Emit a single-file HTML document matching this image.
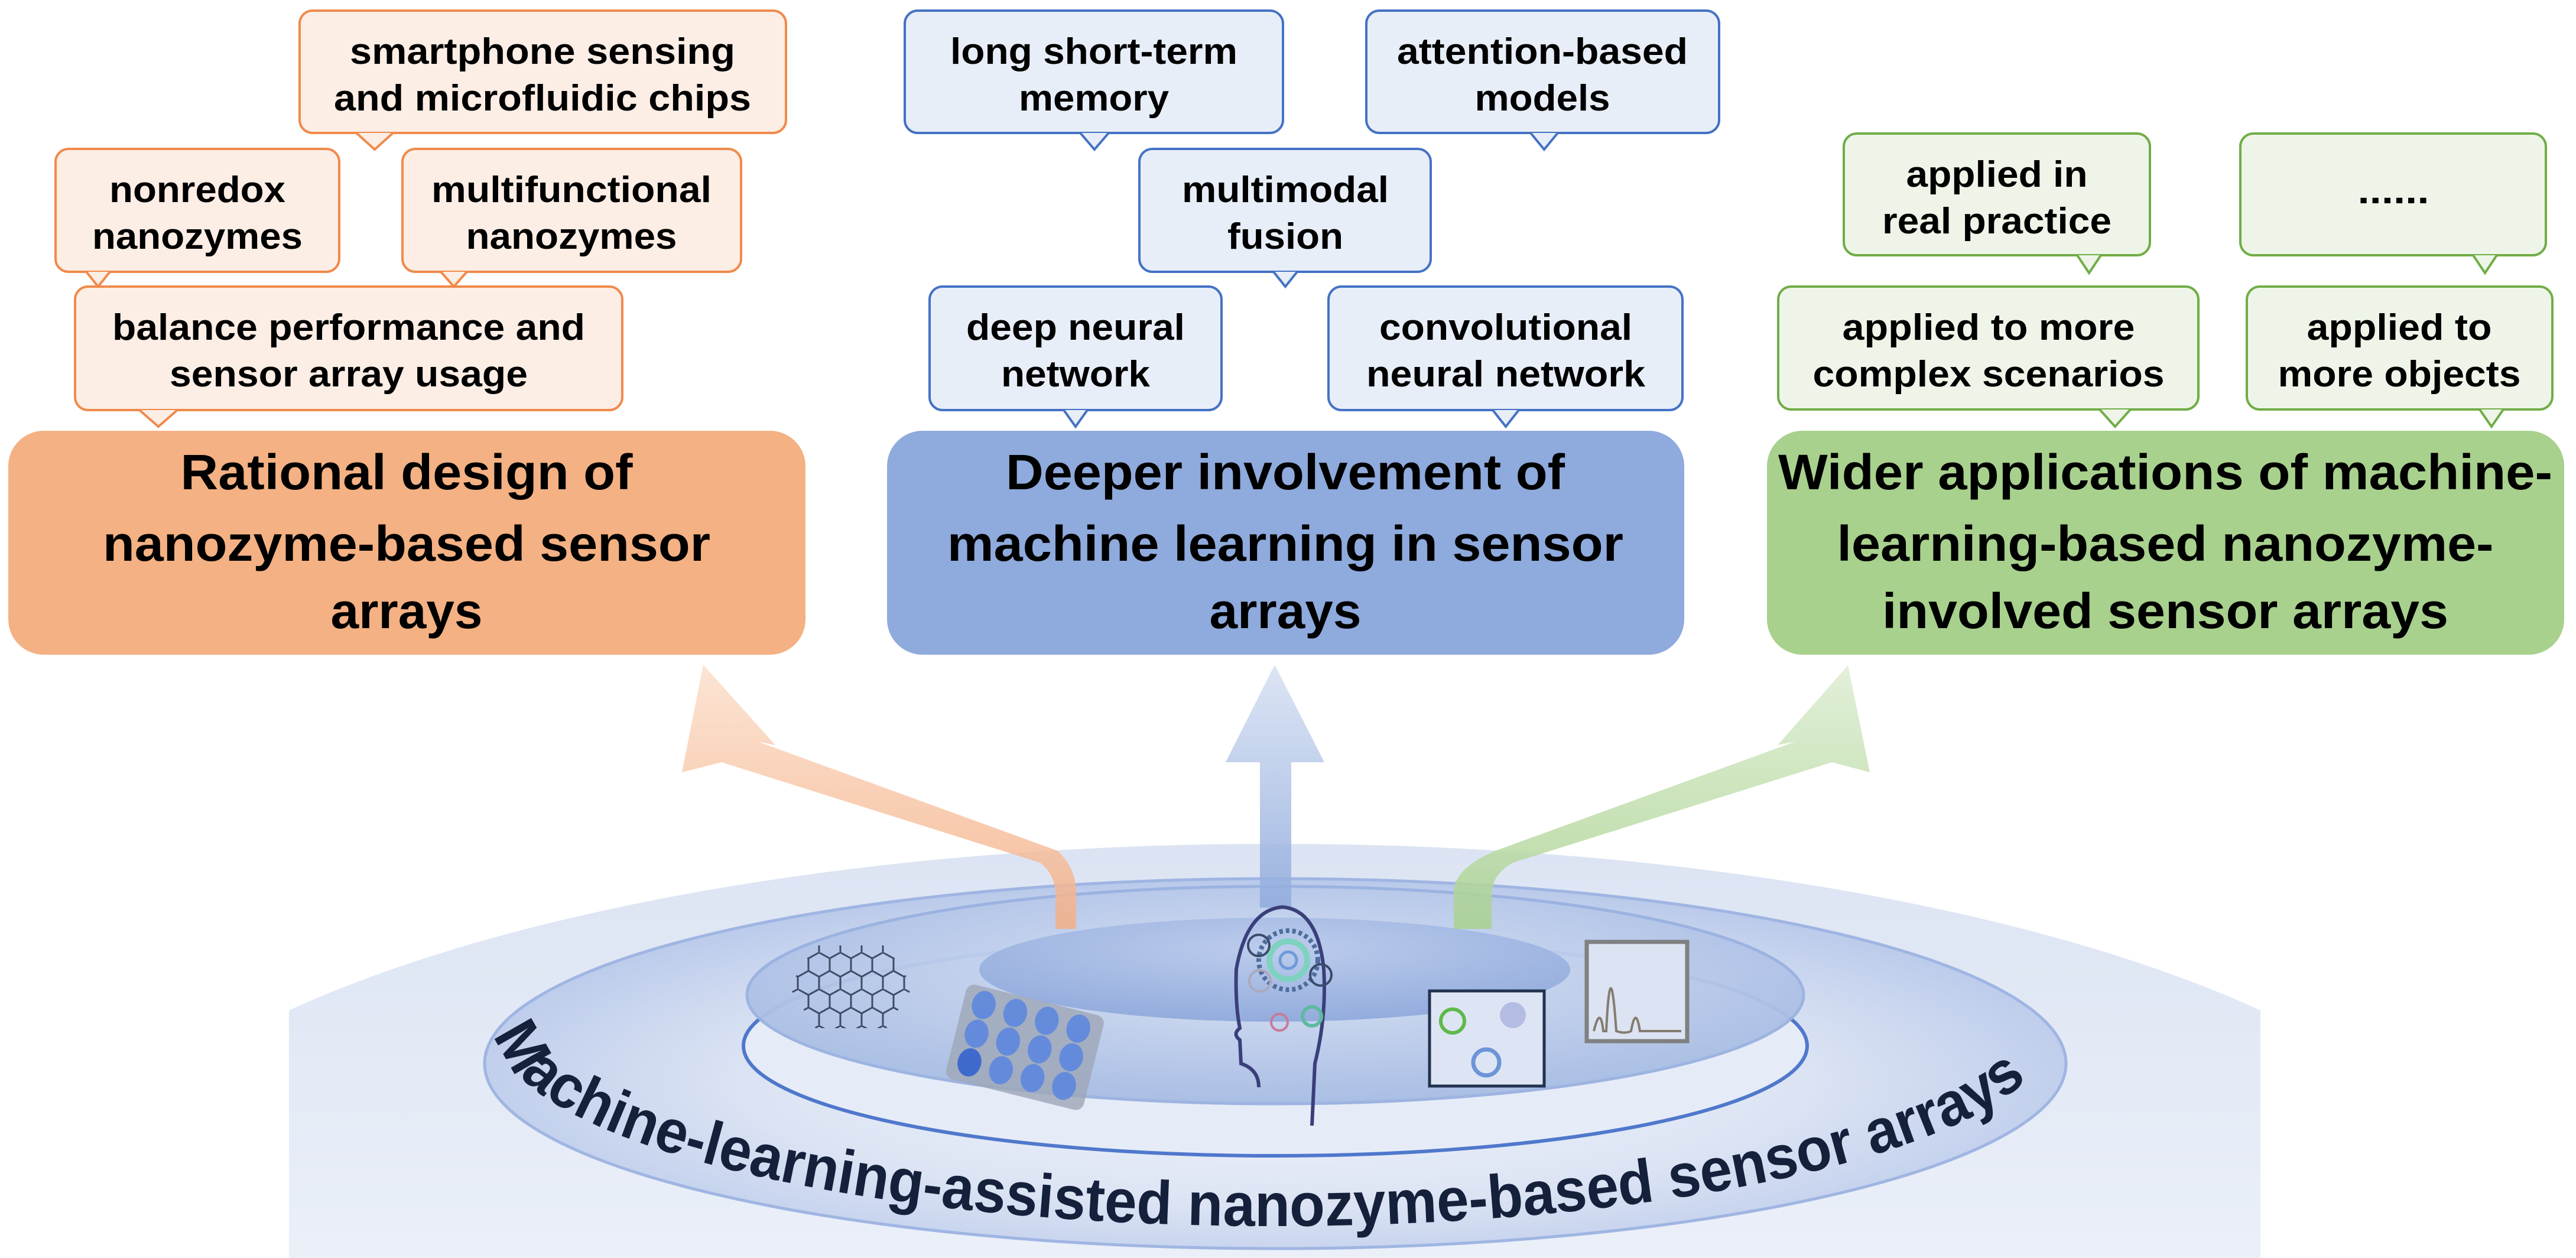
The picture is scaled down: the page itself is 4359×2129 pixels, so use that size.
<!DOCTYPE html>
<html><head><meta charset="utf-8"><style>
html,body{margin:0;padding:0;background:#fff;width:4359px;height:2129px;overflow:hidden}
svg{display:block}
text{font-family:"Liberation Sans",Arial,sans-serif;font-weight:bold}
</style></head><body>
<svg width="4359" height="2129" viewBox="0 0 4359 2129" xmlns="http://www.w3.org/2000/svg">
<defs>
<linearGradient id="gO" x1="0" y1="0" x2="0" y2="1"><stop offset="0" stop-color="#FBE0CC"/><stop offset="1" stop-color="#F4AE85"/></linearGradient>
<linearGradient id="gB" x1="0" y1="0" x2="0" y2="1"><stop offset="0" stop-color="#D6E0F2"/><stop offset="1" stop-color="#8FAADC"/></linearGradient>
<linearGradient id="gG" x1="0" y1="0" x2="0" y2="1"><stop offset="0" stop-color="#DDEDD2"/><stop offset="1" stop-color="#A9D18E"/></linearGradient>
<linearGradient id="outer" x1="0" y1="0" x2="0" y2="1"><stop offset="0" stop-color="#DCE4F3"/><stop offset="1" stop-color="#F8FAFD"/></linearGradient>
<radialGradient id="mid" cx="0.5" cy="0.55" r="0.55"><stop offset="0" stop-color="#F1F4FA"/><stop offset="0.6" stop-color="#DCE4F4"/><stop offset="1" stop-color="#B9C9EA"/></radialGradient>
<radialGradient id="top" cx="0.5" cy="0.4" r="0.6"><stop offset="0" stop-color="#D8E1F3"/><stop offset="1" stop-color="#A7BCE4"/></radialGradient>
<radialGradient id="inner" cx="0.5" cy="0.3" r="0.7"><stop offset="0" stop-color="#BCCCEC"/><stop offset="1" stop-color="#93ACDD"/></radialGradient>
<clipPath id="clipO"><rect x="489" y="0" width="3336" height="2129"/></clipPath>
<path id="ring" d="M 840 1740 A 1318 335 0 0 0 3476 1740"/>
<pattern id="hex" x="0" y="0" width="36" height="62" patternUnits="userSpaceOnUse">
<path d="M0 10 L18 0 L36 10 M18 0 L18 -1 M0 10 L0 31 L18 41 L36 31 L36 10 M18 41 L18 62" fill="none" stroke="#2A3550" stroke-width="3"/>
</pattern>
</defs>

<!-- top boxes: orange -->
<g stroke="#F08A4B" stroke-width="4" fill="#FCEEE5">
<rect x="507" y="18" width="823" height="207" rx="22"/>
<rect x="94" y="252" width="480" height="208" rx="22"/>
<rect x="681" y="252" width="573" height="208" rx="22"/>
<rect x="127" y="485" width="926" height="209" rx="22"/>
<path d="M603 225 L634 253 L665 225" />
<path d="M146 460 L166 485 L186 460" />
<path d="M746 460 L768 485 L790 460" />
<path d="M236 694 L268 722 L300 694" />
</g>
<!-- blue -->
<g stroke="#4472C4" stroke-width="4" fill="#E8EEF8">
<rect x="1531" y="18" width="640" height="207" rx="22"/>
<rect x="2312" y="18" width="597" height="207" rx="22"/>
<rect x="1928" y="252" width="493" height="208" rx="22"/>
<rect x="1573" y="485" width="494" height="209" rx="22"/>
<rect x="2248" y="485" width="599" height="209" rx="22"/>
<path d="M1828 225 L1852 253 L1876 225"/>
<path d="M2590 225 L2613 253 L2636 225"/>
<path d="M2155 460 L2175 485 L2195 460"/>
<path d="M1800 694 L1820 722 L1840 694"/>
<path d="M2526 694 L2548 722 L2570 694"/>
</g>
<!-- green -->
<g stroke="#70AD47" stroke-width="4" fill="#EEF5E8">
<rect x="3120" y="226" width="518" height="206" rx="22"/>
<rect x="3791" y="226" width="517" height="206" rx="22"/>
<rect x="3009" y="485" width="711" height="208" rx="22"/>
<rect x="3802" y="485" width="517" height="208" rx="22"/>
<path d="M3515 432 L3535 462 L3555 432"/>
<path d="M4185 432 L4205 462 L4225 432"/>
<path d="M3553 693 L3579 722 L3605 693"/>
<path d="M4196 693 L4216 722 L4236 693"/>
</g>

<!-- main boxes -->
<rect x="14" y="729" width="1349" height="379" rx="60" fill="#F4B183"/>
<rect x="1501" y="729" width="1349" height="379" rx="60" fill="#8FAADC"/>
<rect x="2990" y="729" width="1349" height="379" rx="60" fill="#A9D18E"/>

<g font-size="62" text-anchor="middle" fill="#000">
<text x="918" y="108" textLength="652" lengthAdjust="spacingAndGlyphs">smartphone sensing</text>
<text x="918" y="187" textLength="706" lengthAdjust="spacingAndGlyphs">and microfluidic chips</text>
<text x="334" y="342" textLength="298" lengthAdjust="spacingAndGlyphs">nonredox</text>
<text x="334" y="421" textLength="356" lengthAdjust="spacingAndGlyphs">nanozymes</text>
<text x="967" y="342" textLength="474" lengthAdjust="spacingAndGlyphs">multifunctional</text>
<text x="967" y="421" textLength="357" lengthAdjust="spacingAndGlyphs">nanozymes</text>
<text x="590" y="575" textLength="800" lengthAdjust="spacingAndGlyphs">balance performance and</text>
<text x="590" y="654" textLength="606" lengthAdjust="spacingAndGlyphs">sensor array usage</text>

<text x="1851" y="108" textLength="486" lengthAdjust="spacingAndGlyphs">long short-term</text>
<text x="1851" y="187" textLength="254" lengthAdjust="spacingAndGlyphs">memory</text>
<text x="2610" y="108" textLength="492" lengthAdjust="spacingAndGlyphs">attention-based</text>
<text x="2610" y="187" textLength="229" lengthAdjust="spacingAndGlyphs">models</text>
<text x="2175" y="342" textLength="350" lengthAdjust="spacingAndGlyphs">multimodal</text>
<text x="2175" y="421" textLength="196" lengthAdjust="spacingAndGlyphs">fusion</text>
<text x="1820" y="575" textLength="370" lengthAdjust="spacingAndGlyphs">deep neural</text>
<text x="1820" y="654" textLength="252" lengthAdjust="spacingAndGlyphs">network</text>
<text x="2548" y="575" textLength="428" lengthAdjust="spacingAndGlyphs">convolutional</text>
<text x="2548" y="654" textLength="472" lengthAdjust="spacingAndGlyphs">neural network</text>

<text x="3379" y="316" textLength="307" lengthAdjust="spacingAndGlyphs">applied in</text>
<text x="3379" y="395" textLength="388" lengthAdjust="spacingAndGlyphs">real practice</text>
<text x="4050" y="344" textLength="121" lengthAdjust="spacingAndGlyphs">......</text>
<text x="3365" y="575" textLength="495" lengthAdjust="spacingAndGlyphs">applied to more</text>
<text x="3365" y="654" textLength="595" lengthAdjust="spacingAndGlyphs">complex scenarios</text>
<text x="4060" y="575" textLength="313" lengthAdjust="spacingAndGlyphs">applied to</text>
<text x="4060" y="654" textLength="411" lengthAdjust="spacingAndGlyphs">more objects</text>
</g>
<g font-size="84" text-anchor="middle" fill="#000">
<text x="688" y="828" textLength="765" lengthAdjust="spacingAndGlyphs">Rational design of</text>
<text x="688" y="949" textLength="1028" lengthAdjust="spacingAndGlyphs">nanozyme-based sensor</text>
<text x="688" y="1063" textLength="257" lengthAdjust="spacingAndGlyphs">arrays</text>
<text x="2175" y="828" textLength="946" lengthAdjust="spacingAndGlyphs">Deeper involvement of</text>
<text x="2175" y="949" textLength="1144" lengthAdjust="spacingAndGlyphs">machine learning in sensor</text>
<text x="2175" y="1063" textLength="257" lengthAdjust="spacingAndGlyphs">arrays</text>
<text x="3664" y="828" textLength="1310" lengthAdjust="spacingAndGlyphs">Wider applications of machine-</text>
<text x="3664" y="949" textLength="1111" lengthAdjust="spacingAndGlyphs">learning-based nanozyme-</text>
<text x="3664" y="1063" textLength="958" lengthAdjust="spacingAndGlyphs">involved sensor arrays</text>
</g>

<!-- disc -->
<ellipse cx="2157" cy="2110" rx="2060" ry="682" fill="url(#outer)" clip-path="url(#clipO)"/>
<ellipse cx="2158" cy="1800" rx="1338" ry="313" fill="url(#mid)" stroke="#9FB5E2" stroke-width="5"/>
<ellipse cx="2158" cy="1770" rx="900" ry="186" fill="#E6ECF7" stroke="#4F78CC" stroke-width="6"/>
<ellipse cx="2158" cy="1684" rx="894" ry="184" fill="url(#top)" stroke="#9AB2E0" stroke-width="5" opacity="0.95"/>
<ellipse cx="2157" cy="1641" rx="500" ry="88" fill="url(#inner)"/>

<!-- arrows -->
<g opacity="0.85">
<path d="M1154 1307 L1190 1125 L1312 1261 L1282 1255 L1790 1440 Q1821 1470 1821 1510 L1821 1572 L1786 1572 L1786 1515 Q1786 1480 1760 1460 L1221 1290 Z" fill="url(#gO)"/>
<path d="M2074 1290 L2157 1125 L2241 1290 L2185 1290 L2185 1536 L2132 1536 L2132 1290 Z" fill="url(#gB)"/>
<path d="M3164 1307 L3127 1126 L3008 1261 L3038 1255 L2530 1440 Q2460 1470 2460 1510 L2460 1572 L2524 1572 L2524 1515 Q2524 1480 2560 1460 L3100 1290 Z" fill="url(#gG)"/>
</g>

<!-- graphene -->
<polygon points="1380,1600 1500,1600 1545,1670 1500,1740 1380,1740 1335,1670" fill="url(#hex)" opacity="0.85"/>
<!-- well plate -->
<g transform="translate(1735 1770) rotate(14)">
<rect x="-120" y="-80" width="240" height="165" rx="14" fill="#9DA6B7" opacity="0.8"/>
<g fill="#5A86E0" opacity="0.85">
<ellipse cx="-85" cy="-50" rx="20" ry="24"/><ellipse cx="-30" cy="-50" rx="20" ry="24"/><ellipse cx="25" cy="-50" rx="20" ry="24"/><ellipse cx="80" cy="-50" rx="20" ry="24"/>
<ellipse cx="-85" cy="0" rx="20" ry="24"/><ellipse cx="-30" cy="0" rx="20" ry="24"/><ellipse cx="25" cy="0" rx="20" ry="24"/><ellipse cx="80" cy="0" rx="20" ry="24"/>
<ellipse cx="-85" cy="50" rx="20" ry="24" fill="#2F5FD0"/><ellipse cx="-30" cy="50" rx="20" ry="24"/><ellipse cx="25" cy="50" rx="20" ry="24"/><ellipse cx="80" cy="50" rx="20" ry="24"/>
</g></g>
<!-- head -->
<path d="M2130 1840 Q2130 1810 2100 1800 L2098 1760 Q2085 1750 2098 1740 Q2090 1700 2092 1640 Q2110 1540 2170 1535 Q2230 1540 2240 1640 Q2245 1720 2225 1800 L2220 1905" fill="none" stroke="#3A3F7A" stroke-width="6"/>
<circle cx="2180" cy="1625" r="50" fill="none" stroke="#4E6C9C" stroke-width="8" stroke-dasharray="6 5"/>
<circle cx="2180" cy="1625" r="32" fill="none" stroke="#7FD2C0" stroke-width="10"/>
<circle cx="2180" cy="1625" r="14" fill="none" stroke="#6E9BD8" stroke-width="5"/>
<circle cx="2235" cy="1650" r="18" fill="none" stroke="#3A4A6A" stroke-width="4"/>
<circle cx="2130" cy="1600" r="18" fill="none" stroke="#3A4A6A" stroke-width="4"/>
<circle cx="2132" cy="1660" r="18" fill="none" stroke="#AAB" stroke-width="4"/>
<circle cx="2165" cy="1730" r="14" fill="none" stroke="#C77A9A" stroke-width="4"/>
<circle cx="2220" cy="1720" r="16" fill="none" stroke="#5FB9A0" stroke-width="6"/>
<!-- micro box -->
<rect x="2419" y="1677" width="194" height="161" fill="#DDE5F4" stroke="#23324F" stroke-width="5"/>
<circle cx="2458" cy="1728" r="20" fill="none" stroke="#5FB94A" stroke-width="6"/>
<circle cx="2560" cy="1718" r="22" fill="#B5BCE3"/>
<circle cx="2515" cy="1798" r="22" fill="none" stroke="#6D94D8" stroke-width="7"/>
<!-- spectrum -->
<rect x="2685" y="1594" width="170" height="168" fill="#DCE3F3" stroke="#808080" stroke-width="7"/>
<path d="M2697 1745 Q2708 1700 2713 1745 L2718 1745 Q2725 1600 2735 1745 Q2750 1750 2760 1745 Q2768 1700 2775 1745 L2845 1745" fill="none" stroke="#857c70" stroke-width="4"/>

<!-- curved label -->
<text font-size="104" fill="#15203B"><textPath href="#ring" startOffset="10" textLength="2720" lengthAdjust="spacingAndGlyphs">Machine-learning-assisted nanozyme-based sensor arrays</textPath></text>
</svg>
</body></html>
